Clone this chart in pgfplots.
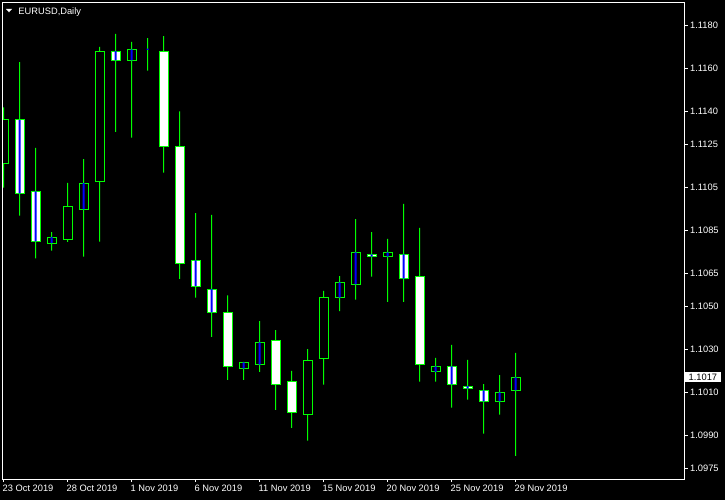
\documentclass[border=0pt]{standalone}
\usepackage{pgfplots}
\pgfplotsset{compat=1.18}
\usepackage{pgfplotstable}
\usepackage{fontspec}
\setmainfont{Liberation Sans}
\definecolor{mtgreen}{RGB}{0,255,0}
\definecolor{mtblue}{RGB}{0,0,255}
\newcommand\mtfont{\fontsize{9.3bp}{11bp}\selectfont}

% daily candles: index, open, high, low, close
\pgfplotstableread{
i o h l c
0 1.11161 1.11420 1.11048 1.11362
1 1.11362 1.11630 1.10919 1.11022
2 1.11031 1.11232 1.10721 1.10800
3 1.10791 1.10843 1.10757 1.10819
4 1.10809 1.11070 1.10797 1.10962
5 1.10948 1.11180 1.10729 1.11069
6 1.11078 1.11700 1.10798 1.11680
7 1.11680 1.11760 1.11307 1.11638
8 1.11638 1.11723 1.11280 1.11689
9 1.11689 1.11741 1.11590 1.11689
10 1.11680 1.11750 1.11118 1.11240
11 1.11240 1.11402 1.10626 1.10698
12 1.10712 1.10931 1.10539 1.10592
13 1.10578 1.10922 1.10358 1.10471
14 1.10471 1.10550 1.10159 1.10221
15 1.10211 1.10242 1.10159 1.10240
16 1.10229 1.10431 1.10195 1.10332
17 1.10342 1.10389 1.10019 1.10138
18 1.10152 1.10200 1.09936 1.10008
19 1.09999 1.10301 1.09877 1.10249
20 1.10257 1.10570 1.10136 1.10541
21 1.10539 1.10639 1.10477 1.10610
22 1.10601 1.10903 1.10530 1.10749
23 1.10740 1.10843 1.10636 1.10729
24 1.10729 1.10811 1.10520 1.10749
25 1.10740 1.10973 1.10520 1.10627
26 1.10638 1.10862 1.10150 1.10231
27 1.10196 1.10260 1.10150 1.10221
28 1.10221 1.10320 1.10030 1.10138
29 1.10129 1.10251 1.10067 1.10118
30 1.10110 1.10139 1.09909 1.10059
31 1.10059 1.10181 1.09997 1.10101
32 1.10110 1.10283 1.09807 1.10170
}\candles

% blue centre lines inside some bodies
\pgfplotstableread{
i lo hi
1 1.11022 1.11362
2 1.10800 1.11031
3 1.10791 1.10819
5 1.10948 1.11069
7 1.11638 1.11680
8 1.11638 1.11689
9 1.11686 1.11692
12 1.10592 1.10712
13 1.10471 1.10578
15 1.10211 1.10240
16 1.10229 1.10332
21 1.10539 1.10610
22 1.10601 1.10749
23 1.10729 1.10740
24 1.10729 1.10749
25 1.10627 1.10740
27 1.10196 1.10221
28 1.10138 1.10221
29 1.10118 1.10129
30 1.10059 1.10110
31 1.10059 1.10101
32 1.10110 1.10170
}\blues

\begin{document}
\begin{tikzpicture}
\fill[black] (0,0) rectangle (725bp,500bp);
\pgfplotsset{candleaxis/.style={at={(2.5bp,21bp)}, anchor=south west,
  scale only axis, width=682.2bp, height=476.5bp,
  xmin=-0.0625, xmax=42.575, ymin=1.096995, ymax=1.119056}}
% wicks
\begin{axis}[candleaxis, hide axis, ybar stacked, bar width=1bp]
\addplot[draw=none, fill=none] table[x=i, y=l] \candles;
\addplot[draw=none, fill=mtgreen] table[x=i, y expr=\thisrow{h}-\thisrow{l}] \candles;
\end{axis}
% bodies
\begin{axis}[candleaxis, hide axis, ybar stacked, bar width=9bp]
\addplot[draw=none, fill=none] table[x=i, y expr={min(\thisrow{o},\thisrow{c})}] \candles;
\addplot[draw=mtgreen, line width=1bp, fill=black] table[x=i, y expr={max(\thisrow{c}-\thisrow{o},0)}] \candles;
\addplot[draw=mtgreen, line width=1bp, fill=white] table[x=i, y expr={max(\thisrow{o}-\thisrow{c},0)}] \candles;
\end{axis}
% blue lines
\begin{axis}[candleaxis, hide axis, ybar stacked, bar width=2bp]
\addplot[draw=none, fill=none] table[x=i, y=lo] \blues;
\addplot[draw=none, fill=mtblue] table[x=i, y expr=\thisrow{hi}-\thisrow{lo}] \blues;
\end{axis}
% frame, ticks, labels
\begin{axis}[candleaxis,
  axis line style={white, line width=1bp},
  tick style={white, line width=1bp},
  tick align=outside, major tick length=3bp,
  xtick={0,4,...,32},
  xticklabels={23 Oct 2019, 28 Oct 2019, 1 Nov 2019, 6 Nov 2019, 11 Nov 2019, 15 Nov 2019, 20 Nov 2019, 25 Nov 2019, 29 Nov 2019},
  xtick pos=bottom,
  ytick={1.1180,1.1160,1.1140,1.1125,1.1105,1.1085,1.1065,1.1050,1.1030,1.1010,1.0990,1.0975},
  yticklabels={1.1180,1.1160,1.1140,1.1125,1.1105,1.1085,1.1065,1.1050,1.1030,1.1010,1.0990,1.0975},
  ytick pos=right, yticklabel pos=right,
  ticklabel style={text=white, font=\mtfont, inner sep=0pt},
  xticklabel style={anchor=base west, xshift=-1bp, yshift=-9.5bp},
  yticklabel style={anchor=west, xshift=2.3bp},
  extra y ticks={1.1017},
  extra y tick labels={1.1017},
  extra y tick style={major tick length=0pt, yticklabel style={fill=white, text=black, inner xsep=3.5bp, inner ysep=1.6bp, xshift=-2bp}},
]
\fill[white] ([xshift=3.5bp,yshift=-6.5bp]rel axis cs:0,1) -- ([xshift=9.5bp,yshift=-6.5bp]rel axis cs:0,1) -- ([xshift=6.5bp,yshift=-9.8bp]rel axis cs:0,1) -- cycle;
\node[anchor=base west, inner sep=0pt, text=white, font=\mtfont] at ([xshift=15.8bp,yshift=-12.5bp]rel axis cs:0,1) {EURUSD,Daily};
\end{axis}
\pgfresetboundingbox
\useasboundingbox (0,0) rectangle (725bp,500bp);
\end{tikzpicture}
\end{document}
